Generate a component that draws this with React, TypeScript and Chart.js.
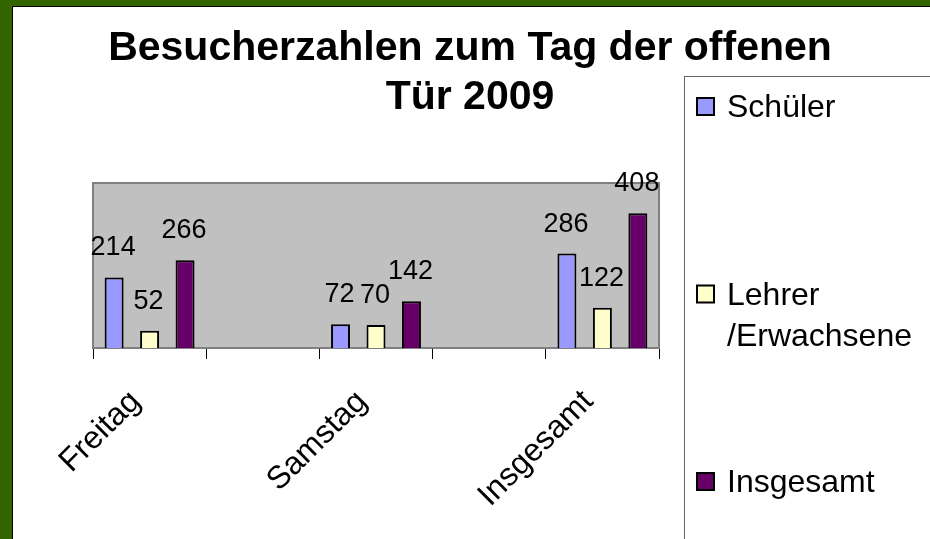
import React, { useEffect, useRef } from "react";
import { Chart, registerables } from "chart.js";

Chart.register(...registerables);

const categories = ["Freitag", "", "Samstag", "", "Insgesamt"];
const seriesNames = ["Schüler", "Lehrer /Erwachsene", "Insgesamt"];
const schueler = [214, null, 72, null, 286];
const lehrer = [52, null, 70, null, 122];
const insgesamt = [266, null, 142, null, 408];
const seriesValues = [schueler, lehrer, insgesamt];
const seriesColors = ["#9999FF", "#FFFFCC", "#660066"];
const titleLines = ["Besucherzahlen zum Tag der offenen", "Tür 2009"];
const yMin = 0;
const yMax = 500;

const FONT = "'Liberation Sans', Arial, Helvetica, sans-serif";

function wrapText(ctx: CanvasRenderingContext2D, text: string, maxW: number): string[] {
  const words = text.split(" ");
  const lines: string[] = [];
  let cur = "";
  for (const w of words) {
    const t = cur ? cur + " " + w : w;
    if (cur && ctx.measureText(t).width > maxW) {
      lines.push(cur);
      cur = w;
    } else cur = t;
  }
  if (cur) lines.push(cur);
  return lines;
}

const plotBackground = {
  id: "plotBackground",
  beforeDraw(chart: any) {
    const { ctx, chartArea: a } = chart;
    ctx.save();
    ctx.fillStyle = "#C0C0C0";
    ctx.fillRect(a.left, a.top, a.right - a.left, a.bottom - a.top);
    ctx.strokeStyle = "#808080";
    ctx.lineWidth = 2;
    ctx.strokeRect(a.left, a.top, a.right - a.left, a.bottom - a.top);
    ctx.restore();
  },
};

const valueLabels = {
  id: "valueLabels",
  afterDatasetsDraw(chart: any) {
    const { ctx } = chart;
    ctx.save();
    ctx.font = `27px ${FONT}`;
    ctx.fillStyle = "#000";
    ctx.textAlign = "center";
    ctx.textBaseline = "alphabetic";
    chart.data.datasets.forEach((ds: any, di: number) => {
      const meta = chart.getDatasetMeta(di);
      meta.data.forEach((bar: any, i: number) => {
        const v = ds.data[i];
        if (v === null || v === undefined) return;
        ctx.fillText(String(v), bar.x - 1, bar.y - 22);
      });
    });
    ctx.restore();
  },
};

const titleAndLegend = {
  id: "titleAndLegend",
  afterDraw(chart: any) {
    const { ctx } = chart;
    ctx.save();
    // title
    ctx.font = `bold 41px ${FONT}`;
    ctx.fillStyle = "#000";
    ctx.textAlign = "center";
    ctx.textBaseline = "alphabetic";
    const titleBase = [60, 109];
    titleLines.forEach((line, i) => ctx.fillText(line, 470, titleBase[i]));

    // legend box
    ctx.strokeStyle = "#666";
    ctx.lineWidth = 1;
    ctx.strokeRect(684.5, 76.5, 300, 500);
    ctx.font = `32px ${FONT}`;
    ctx.textAlign = "left";
    chart.data.datasets.forEach((ds: any, i: number) => {
      const base = 117 + i * 187.5;
      ctx.fillStyle = ds.backgroundColor;
      ctx.fillRect(697, base - 19, 17, 17);
      ctx.strokeStyle = "#000";
      ctx.lineWidth = 2;
      ctx.strokeRect(697, base - 19, 17, 17);
      ctx.fillStyle = "#000";
      const lines = wrapText(ctx, ds.label, 200);
      lines.forEach((l, li) => ctx.fillText(l, 727, base + li * 41));
    });
    ctx.restore();
  },
};

export default function App() {
  const ref = useRef<HTMLCanvasElement>(null);
  useEffect(() => {
    const chart = new Chart(ref.current as HTMLCanvasElement, {
      type: "bar",
      data: {
        labels: categories,
        datasets: seriesNames.map((name, i) => ({
          label: name,
          data: seriesValues[i],
          backgroundColor: seriesColors[i],
          borderColor: "#000",
          borderWidth: 2,
          categoryPercentage: 0.94,
          barPercentage: 0.535,
        })),
      },
      options: {
        animation: false,
        responsive: false,
        devicePixelRatio: 1,
        layout: { padding: { left: 93, right: 271, top: 183, bottom: 0 } },
        plugins: {
          legend: { display: false },
          title: { display: false },
          tooltip: { enabled: false },
        },
        scales: {
          x: {
            offset: true,
            grid: {
              display: true,
              drawOnChartArea: false,
              drawTicks: true,
              tickLength: 11,
              color: "#000",
              offset: true,
              lineWidth: 1,
            },
            border: { display: true, color: "#808080", width: 2 },
            ticks: {
              color: "#000",
              font: { family: FONT, size: 32 },
              minRotation: 45,
              maxRotation: 45,
              autoSkip: false,
              padding: 24,
              labelOffset: -14,
            },
            afterFit: (s: any) => {
              s.height = 539 - 348;
            },
          },
          y: { display: false, min: yMin, max: yMax },
        },
      },
      plugins: [plotBackground, valueLabels, titleAndLegend],
    } as any);
    return () => chart.destroy();
  }, []);
  return (
    <div
      style={{
        position: "fixed",
        left: 0,
        top: 0,
        width: 930,
        height: 539,
        background: "#336600",
        overflow: "hidden",
      }}
    >
      <div
        style={{
          position: "absolute",
          left: 12,
          top: 6,
          width: 930,
          height: 539,
          background: "#fff",
          borderLeft: "1px solid #000",
          borderTop: "1px solid #000",
        }}
      />
      <canvas
        ref={ref}
        width={930}
        height={539}
        style={{ position: "absolute", left: 0, top: 0, width: 930, height: 539 }}
      />
    </div>
  );
}
